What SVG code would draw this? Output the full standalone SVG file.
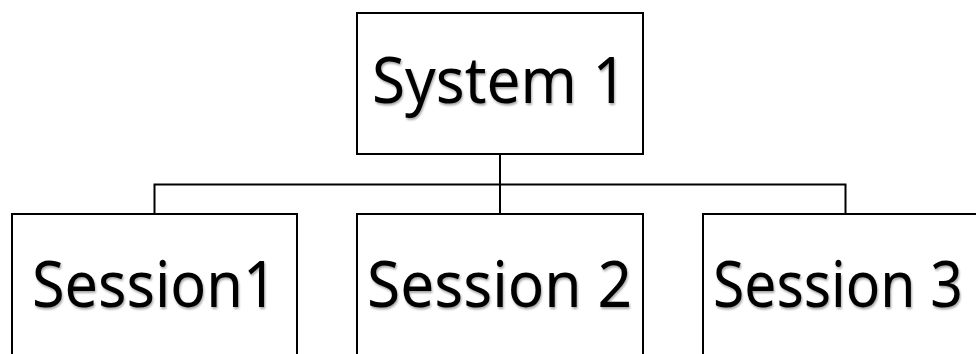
<svg xmlns="http://www.w3.org/2000/svg" width="976" height="354" viewBox="0 0 976 354">
<defs>
<style>
.box{fill:#fff;stroke:#000;stroke-width:2}
.lbl{font-family:"Noto Sans","Open Sans","Liberation Sans",sans-serif;font-size:63px;fill:#000;text-anchor:middle}
.conn{fill:none;stroke:#000;stroke-width:2}
</style>
<filter id="sh" x="-5%" y="-20%" width="110%" height="140%">
<feGaussianBlur in="SourceAlpha" stdDeviation="1"/>
<feOffset dx="1" dy="1.5" result="b"/>
<feComponentTransfer><feFuncA type="linear" slope="0.35"/></feComponentTransfer>
<feMerge><feMergeNode/><feMergeNode in="SourceGraphic"/></feMerge>
</filter>
</defs>
<rect width="976" height="354" fill="#fff"/>
<g id="connectors">
<path class="conn" d="M500 154 V184.5 M154.5 214 V184.5 H845.5 V214 M500 184.5 V214"/>
</g>
<g id="system1">
<rect class="box" x="357" y="13" width="286" height="141"/>
<text class="lbl" x="499.5" y="103" textLength="255" lengthAdjust="spacingAndGlyphs" filter="url(#sh)">System 1</text>
</g>
<g id="session1">
<rect class="box" x="12" y="214" width="285" height="150"/>
<text class="lbl" x="154.5" y="306.5" textLength="245" lengthAdjust="spacingAndGlyphs" filter="url(#sh)">Session1</text>
</g>
<g id="session2">
<rect class="box" x="357" y="214" width="286" height="150"/>
<text class="lbl" x="499.5" y="306.5" textLength="265" lengthAdjust="spacingAndGlyphs" filter="url(#sh)">Session 2</text>
</g>
<g id="session3">
<rect class="box" x="703" y="214" width="286" height="150"/>
<text class="lbl" x="838" y="306.5" textLength="250" lengthAdjust="spacingAndGlyphs" filter="url(#sh)">Session 3</text>
</g>
</svg>
